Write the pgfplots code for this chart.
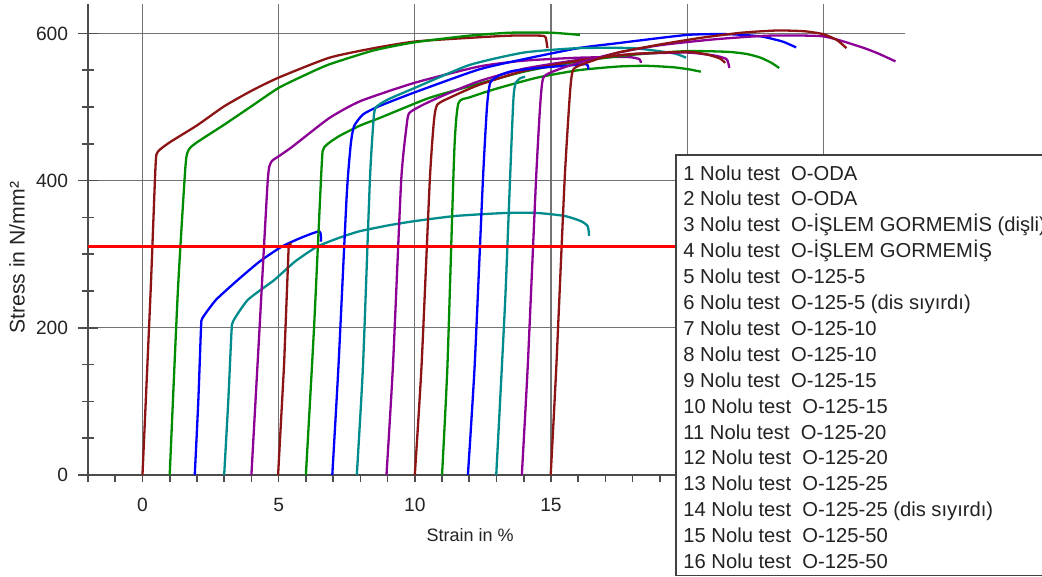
\documentclass[border=0pt]{standalone}
\usepackage{fontspec}
\setmainfont{Liberation Sans}
\usepackage{pgfplots}
\pgfplotsset{compat=1.18}

\definecolor{cMaroon}{RGB}{140,20,20}
\definecolor{cGreen}{RGB}{0,140,0}
\definecolor{cBlue}{RGB}{0,0,255}
\definecolor{cTeal}{RGB}{0,140,140}
\definecolor{cPurple}{RGB}{140,0,150}
\definecolor{txt}{RGB}{35,35,35}

\begin{document}
\begin{tikzpicture}
\begin{axis}[
  scale only axis,
  width=408.5pt, height=235.5pt,
  xmin=-2, xmax=28, ymin=0, ymax=640,
  axis lines=left,
  axis line style={-, line width=1pt, black!70},
  xtick={0,5,...,25}, xticklabels={0,5,10,15,,},
  minor xtick={-2,-1,...,27},
  ytick={0,200,400,600}, minor ytick={50,100,...,600},
  tick align=center,
  major tick length=9.5pt, minor tick length=6pt,
  tick style={black!70, line width=0.8pt},
  major x tick style={/pgfplots/major tick length=3.5pt, yshift=-1.75pt},
  minor x tick style={/pgfplots/minor tick length=3.5pt, yshift=-1.75pt},
  xmajorgrids, ymajorgrids,
  grid style={black!55, line width=0.6pt},
  /pgf/number format/assume math mode=true,
  yticklabel style={font=\fontsize{9.6}{11}\selectfont, text=txt, inner sep=0pt, xshift=-5pt},
  xticklabel style={font=\fontsize{9.6}{11}\selectfont, text=txt, inner sep=0pt, yshift=-6.5pt},
  xlabel={Strain in \%},
  xlabel style={font=\fontsize{9}{11}\selectfont, text=txt,
                at={(axis description cs:0.4676,-0.127)}, anchor=center},
  ylabel={Stress in N/mm²},
  ylabel style={font=\fontsize{10.6}{12}\selectfont, text=txt,
                at={(axis description cs:-0.0869,0.461)}, anchor=center},
  every axis plot/.append style={line width=1.15pt, line join=round, no markers},
  curve/.style={smooth, tension=0.35},
]
% 1 maroon
\addplot[cMaroon, curve] coordinates {(0,0) (0.3,250) (0.48,420) (0.56,439) (1,452) (2,475) (3,501) (4,522) (5,540) (6.86,567) (8.5,580) (10,589) (12,594) (13.5,597) (14.6,597) (14.8,595) (14.87,580)};
% 2 green
\addplot[cGreen, curve] coordinates {(1,0) (1.3,250) (1.58,420) (1.7,442) (2,452) (3,476) (4,501) (5,526) (6,544) (6.86,558) (8.5,577) (10,588) (12,597) (13.5,601) (15,601) (16.06,598)};
% 3 blue
\addplot[cBlue, curve] coordinates {(1.92,0) (2.05,100) (2.15,200) (2.2,213) (2.7,238) (3.5,265) (4.3,290) (5.1,310) (5.8,322) (6.5,331) (6.55,317)};
% 4 teal
\addplot[cTeal, curve] coordinates {(3.0,0) (3.15,100) (3.27,195) (3.33,209) (3.87,238) (4.84,265) (5.6,290) (6.4,310) (7.2,322) (7.95,331) (9,339) (10,345) (11.5,352) (13.3,356) (14.5,356) (15.5,352) (16.1,345) (16.35,338) (16.4,325)};
% 5 purple
\addplot[cPurple, curve] coordinates {(4.0,0) (4.3,200) (4.6,400) (4.72,425) (5,433) (5.5,446) (6.86,485) (8,508) (10,533) (12.35,555) (14,563) (16,567) (17.8,568) (18.25,565) (18.3,560)};
% 6 maroon
\addplot[cMaroon] coordinates {(4.98,0) (5.2,150) (5.37,312) (5.47,315)};
% 7 green
\addplot[cGreen, curve] coordinates {(6,0) (6.3,200) (6.58,420) (6.67,445) (7.2,460) (8,475) (8.7,485) (10.5,512) (12,528) (14,548) (16,562) (18,571) (20,576) (21.5,575) (22.2,572) (22.7,567) (23.1,560) (23.38,553)};
% 8 blue
\addplot[cBlue, curve] coordinates {(6.97,0) (7.2,150) (7.5,380) (7.65,450) (7.77,474) (8.1,490) (8.68,501) (10,520) (12.35,551) (14,565) (16,580) (17.5,587) (20,598) (21.5,599) (22.7,596) (23.5,589) (24,581)};
% 9 teal
\addplot[cTeal, curve] coordinates {(7.87,0) (8.1,150) (8.35,400) (8.48,480) (8.56,499) (9,510) (10,526) (12,557) (14,574) (16,580) (18,580) (19.5,573) (19.96,567)};
% 10 purple
\addplot[cPurple, curve] coordinates {(8.96,0) (9.2,150) (9.5,400) (9.7,475) (9.8,492) (10.3,503) (11,515) (12.35,535) (14,552) (16,564) (18,572) (20,574) (21,570) (21.45,565) (21.55,553)};
% 11 maroon
\addplot[cMaroon, curve] coordinates {(10,0) (10.25,150) (10.55,400) (10.7,480) (10.82,503) (11.3,513) (12.35,530) (14,549) (16,563) (18,572) (20,575) (20.76,571) (21.2,566) (21.4,560)};
% 12 green
\addplot[cGreen, curve] coordinates {(11,0) (11.2,150) (11.45,440) (11.6,505) (12,513) (13,525) (14.5,540) (16,550) (17.45,555) (18.5,556) (19.5,554) (20.1,551) (20.5,548)};
% 13 blue
\addplot[cBlue, curve] coordinates {(11.95,0) (12.2,150) (12.5,400) (12.65,500) (12.77,533) (13.1,543) (13.6,549) (14.5,553) (15.5,556) (16.3,558) (16.37,551)};
% 14 teal
\addplot[cTeal, curve] coordinates {(12.99,0) (13.32,238) (13.62,510) (13.8,537) (14.05,541)};
% 15 purple
\addplot[cPurple, curve] coordinates {(13.93,0) (14.15,150) (14.45,400) (14.6,500) (14.72,540) (15.2,550) (16,560) (17.47,574) (19,584) (21,592) (23,597) (25,596) (26.35,582) (27,573) (27.65,562)};
% 16 maroon
\addplot[cMaroon, curve] coordinates {(14.99,0) (15.2,150) (15.5,400) (15.7,520) (15.82,551) (16.3,560) (17.47,574) (19,585) (20.5,594) (22,601) (23.3,604) (24.3,603) (25,599) (25.5,591) (25.85,580)};
% reference line
\addplot[red, line width=1.5pt] coordinates {(-2,310) (28,310)};
\end{axis}

\draw[fill=white, draw=black!75, line width=0.7pt]
  ([xshift=294pt,yshift=-75.5pt]current axis.north west) rectangle ++(200pt,-210.25pt);
\node[anchor=north west, inner sep=0pt, align=left, text=txt,
      font=\fontsize{10.1}{12.95}\selectfont]
  at ([xshift=297.5pt,yshift=-80.5pt]current axis.north west) {%
1 Nolu test\ \ O-ODA\\
2 Nolu test\ \ O-ODA\\
3 Nolu test\ \ O-İŞLEM GORMEMİS (dişli)\\
4 Nolu test\ \ O-İŞLEM GORMEMİŞ\\
5 Nolu test\ \ O-125-5\\
6 Nolu test\ \ O-125-5 (dis sıyırdı)\\
7 Nolu test\ \ O-125-10\\
8 Nolu test\ \ O-125-10\\
9 Nolu test\ \ O-125-15\\
10 Nolu test\ \ O-125-15\\
11 Nolu test\ \ O-125-20\\
12 Nolu test\ \ O-125-20\\
13 Nolu test\ \ O-125-25\\
14 Nolu test\ \ O-125-25 (dis sıyırdı)\\
15 Nolu test\ \ O-125-50\\
16 Nolu test\ \ O-125-50};

\pgfresetboundingbox
\useasboundingbox ([xshift=-44pt,yshift=-51pt]current axis.south west)
  rectangle ([xshift=68.5pt,yshift=2pt]current axis.north east);
\end{tikzpicture}
\end{document}
